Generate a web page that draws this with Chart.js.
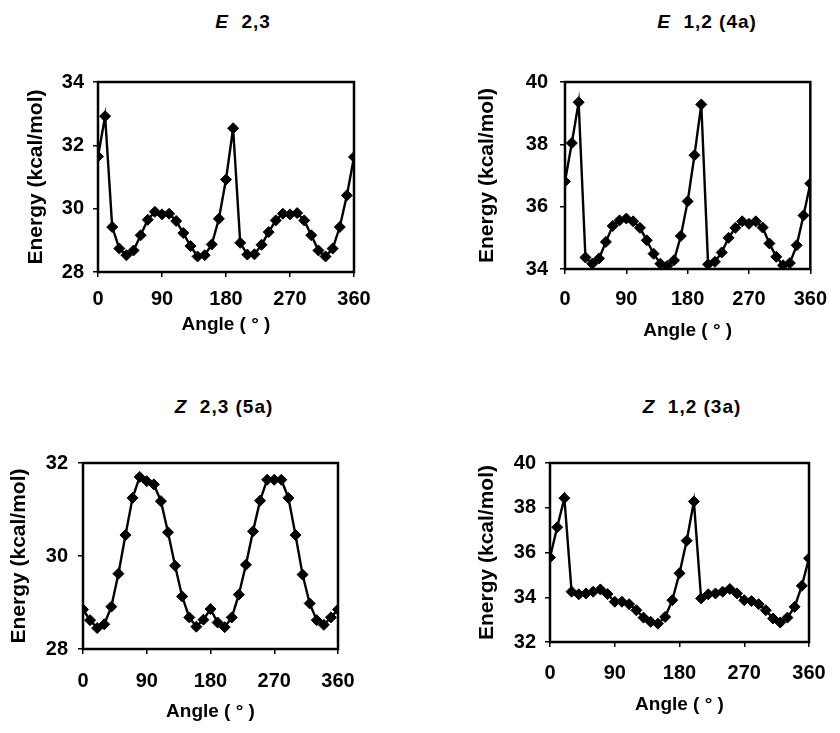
<!DOCTYPE html>
<html>
<head>
<meta charset="utf-8">
<script src="https://cdn.jsdelivr.net/npm/chart.js@4/dist/chart.umd.min.js"></script>
<style>
  body { margin: 0; background: #fff; }
  #wrap { position: relative; width: 840px; height: 733px; overflow: hidden; }
  canvas { position: absolute; }
  .ttl {
    position: absolute; transform: translate(-50%, -50%);
    font: bold 19px "Liberation Sans", Arial, sans-serif; letter-spacing: 1px;
    color: #000; white-space: nowrap;
  }
</style>
</head>
<body>
<div id="wrap">
  <div class="ttl" style="left:243px;top:22px"><i>E</i>&nbsp; 2,3</div>
  <div class="ttl" style="left:707px;top:22px"><i>E</i>&nbsp; 1,2 (4a)</div>
  <div class="ttl" style="left:224px;top:407px"><i>Z</i>&nbsp; 2,3 (5a)</div>
  <div class="ttl" style="left:692px;top:407px"><i>Z</i>&nbsp; 1,2 (3a)</div>
  <canvas id="c1" width="420" height="300" style="left:0;top:40px"></canvas>
  <canvas id="c2" width="420" height="305" style="left:420px;top:40px"></canvas>
  <canvas id="c3" width="420" height="310" style="left:0;top:420px"></canvas>
  <canvas id="c4" width="420" height="310" style="left:420px;top:420px"></canvas>
</div>
<script>
// torsion angle (deg)
const angles = [0, 10, 20, 30, 40, 50, 60, 70, 80, 90, 100, 110, 120, 130, 140, 150, 160, 170, 180,
  190, 200, 210, 220, 230, 240, 250, 260, 270, 280, 290, 300, 310, 320, 330, 340, 350, 360];
const xTicks = [0, 90, 180, 270, 360];

// energies (kcal/mol)
const energyE23 = [31.65, 32.92, 29.42, 28.74, 28.53, 28.68, 29.16, 29.65, 29.9, 29.82, 29.84, 29.61, 29.23,
  28.82, 28.49, 28.53, 28.87, 29.68, 30.92, 32.54, 28.92, 28.55, 28.56, 28.86, 29.26, 29.63, 29.84,
  29.82, 29.86, 29.63, 29.16, 28.68, 28.49, 28.74, 29.42, 30.42, 31.63];
const energyE12 = [36.81, 38.04, 39.35, 34.37, 34.17, 34.34, 34.87, 35.38, 35.56, 35.62, 35.53, 35.32, 34.92,
  34.49, 34.17, 34.1, 34.28, 35.06, 36.17, 37.65, 39.28, 34.15, 34.23, 34.53, 35.0, 35.32, 35.53,
  35.45, 35.53, 35.33, 34.82, 34.39, 34.12, 34.19, 34.76, 35.72, 36.74];
const energyZ23 = [28.85, 28.62, 28.45, 28.53, 28.91, 29.62, 30.45, 31.25, 31.7, 31.61, 31.54, 31.18, 30.51,
  29.79, 29.13, 28.68, 28.48, 28.63, 28.86, 28.57, 28.47, 28.68, 29.17, 29.81, 30.53, 31.19, 31.64,
  31.64, 31.64, 31.25, 30.45, 29.6, 28.98, 28.62, 28.52, 28.68, 28.85];
const energyZ12 = [35.78, 37.13, 38.43, 34.25, 34.13, 34.17, 34.25, 34.35, 34.14, 33.8, 33.8, 33.69, 33.42,
  33.09, 32.9, 32.82, 33.12, 33.87, 35.07, 36.53, 38.28, 33.95, 34.13, 34.17, 34.25, 34.37, 34.17,
  33.87, 33.83, 33.69, 33.42, 33.05, 32.87, 33.09, 33.57, 34.51, 35.74];

const FONT = '"Liberation Sans", Arial, sans-serif';

// black frame round the plot area
const framePlugin = {
  id: 'frame',
  afterDraw(chart) {
    const a = chart.chartArea, ctx = chart.ctx;
    ctx.save();
    ctx.strokeStyle = '#000';
    ctx.lineWidth = 2.5;
    ctx.strokeRect(a.left, a.top, a.right - a.left, a.bottom - a.top);
    ctx.restore();
  }
};

function makePanel(id, values, yMin, yMax, g) {
  const pts = angles.map((a, i) => ({ x: a, y: values[i] }));
  return new Chart(document.getElementById(id), {
    type: 'line',
    data: {
      datasets: [{
        data: pts,
        borderColor: '#000',
        borderWidth: 2.4,
        pointStyle: 'rectRot',
        pointRadius: 5.5,
        pointBackgroundColor: '#000',
        pointBorderColor: '#000',
        pointBorderWidth: 1,
        tension: 0
      }]
    },
    options: {
      responsive: false,
      animation: false,
      devicePixelRatio: 1,
      layout: { padding: { top: g.top, right: g.right, left: 0, bottom: 0 } },
      plugins: { legend: { display: false }, tooltip: { enabled: false } },
      scales: {
        x: {
          type: 'linear', min: 0, max: 360,
          afterBuildTicks: (s) => { s.ticks = xTicks.map(v => ({ value: v })); },
          afterFit: (s) => { s.height = g.xh; },
          border: { display: false },
          grid: { drawOnChartArea: false, drawTicks: true, tickLength: 5, color: '#000', lineWidth: 1.5 },
          ticks: { color: '#000', padding: g.xtp, maxRotation: 0, font: { family: FONT, size: 20, weight: 'bold' } },
          title: { display: true, text: 'Angle ( ° )', color: '#000', padding: { top: 0, bottom: g.xtt },
            font: { family: FONT, size: 19, weight: 'bold' } }
        },
        y: {
          min: yMin, max: yMax,
          afterFit: (s) => { s.width = g.yw; },
          border: { display: false },
          grid: { drawOnChartArea: false, drawTicks: true, tickLength: 5, color: '#000', lineWidth: 1.5 },
          ticks: { stepSize: 2, color: '#000', padding: g.ytp, font: { family: FONT, size: 20, weight: 'bold' } },
          title: { display: true, text: 'Energy (kcal/mol)', color: '#000', padding: { top: g.ytt, bottom: 0 },
            font: { family: FONT, size: 21, weight: 'bold' } }
        }
      }
    },
    plugins: [framePlugin]
  });
}

makePanel('c1', energyE23, 28, 34, { top: 42, right: 66, yw: 98, xh: 68, xtp: 10, xtt: 4, ytp: 9, ytt: 24 });
makePanel('c2', energyE12, 34, 40, { top: 42, right: 20, yw: 145, xh: 76, xtp: 13, xtt: 3, ytp: 12, ytt: 55 });
makePanel('c3', energyZ23, 28, 32, { top: 43, right: 82, yw: 83, xh: 81, xtp: 15, xtt: 7, ytp: 10, ytt: 7 });
makePanel('c4', energyZ12, 32, 40, { top: 43, right: 31, yw: 130, xh: 88, xtp: 14, xtt: 14, ytp: 9, ytt: 55 });
</script>
</body>
</html>
